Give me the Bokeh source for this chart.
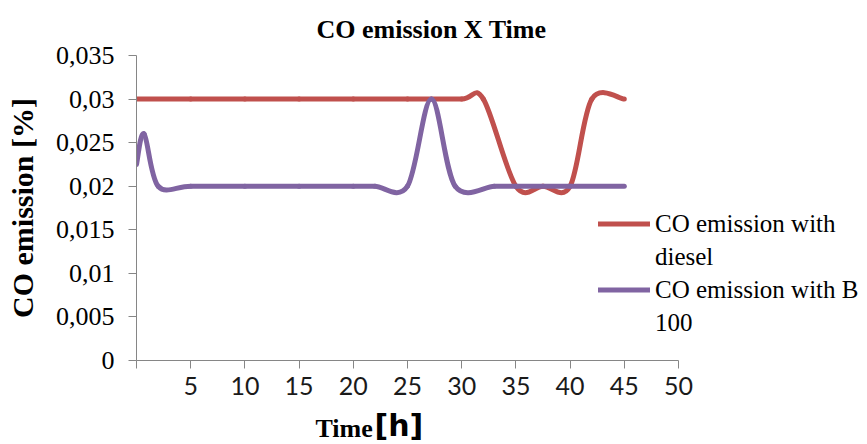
import numpy as np
from bokeh.plotting import figure
from bokeh.models import FixedTicker, Legend, LegendItem, Range1d, Title
from bokeh.embed import file_html
from bokeh.resources import INLINE

# ---- data ----
title_text = "CO emission X Time"
legend_lines = [["CO emission with", "diesel"], ["CO emission with B", "100"]]

time_diesel = [0, 5, 10, 15, 20, 25, 30, 32, 35, 37.5, 40, 42, 45]
co_diesel = [0.03, 0.03, 0.03, 0.03, 0.03, 0.03, 0.03, 0.03, 0.02, 0.02, 0.02, 0.03, 0.03]

time_b100 = [0, 0.7, 2, 5, 10, 15, 20, 22, 25, 27.2, 29.4, 33, 35, 40, 45]
co_b100 = [0.0225, 0.026, 0.02, 0.02, 0.02, 0.02, 0.02, 0.02, 0.02, 0.03, 0.02, 0.02, 0.02, 0.02, 0.02]

y_ticks = [0, 0.005, 0.01, 0.015, 0.02, 0.025, 0.03, 0.035]
y_tick_labels = ["0", "0,005", "0,01", "0,015", "0,02", "0,025", "0,03", "0,035"]
x_ticks = [0, 5, 10, 15, 20, 25, 30, 35, 40, 45, 50]
x_tick_labels = ["", "5", "10", "15", "20", "25", "30", "35", "40", "45", "50"]
x_title_parts = ["Time", "[h]"]

RED = "#C0504D"
PURPLE = "#8064A2"
AXIS = "#868686"

# layout (pixels)
W, H = 867, 444
LEFT, TOP, BOTTOM = 136, 55, 84
AXIS_RIGHT_PX = 678          # where x = 50 sits
X_MAX, Y_MAX = 50, 0.035
px_per_x = (AXIS_RIGHT_PX - LEFT) / X_MAX
x_end = (W - LEFT) / px_per_x   # frame runs to the right edge; axis stops at 50


def smooth_segments(xs, ys):
    """Excel-like smoothed line: cubic Bezier segments through the points."""
    x = np.asarray(xs, float)
    y = np.asarray(ys, float)
    n = len(x) - 1
    xp = np.concatenate([[x[0]], x, [x[-1]]])
    yp = np.concatenate([[y[0]], y, [y[-1]]])
    cx0 = x[:-1] + (xp[2:n + 2] - xp[0:n]) / 6.0
    cy0 = y[:-1] + (yp[2:n + 2] - yp[0:n]) / 6.0
    cx1 = x[1:] - (xp[3:n + 3] - xp[1:n + 1]) / 6.0
    cy1 = y[1:] - (yp[3:n + 3] - yp[1:n + 1]) / 6.0
    return dict(x0=x[:-1], y0=y[:-1], x1=x[1:], y1=y[1:],
                cx0=cx0, cy0=cy0, cx1=cx1, cy1=cy1)


p = figure(width=W, height=H, output_backend="svg", toolbar_location=None,
           x_range=Range1d(0, x_end), y_range=Range1d(0, Y_MAX),
           min_border_left=LEFT, min_border_right=0,
           min_border_top=TOP, min_border_bottom=BOTTOM)

p.outline_line_color = None
p.xgrid.visible = False
p.ygrid.visible = False
p.background_fill_color = "white"
p.border_fill_color = "white"

# title
p.title.text = title_text
p.title.text_font = "Liberation Serif"
p.title.text_font_style = "bold"
p.title.text_font_size = "26px"
p.title.text_color = "black"
p.title.align = "left"
p.title.offset = 180
p.title.standoff = 23

# y axis
ya = p.yaxis[0]
ya.ticker = FixedTicker(ticks=y_ticks)
ya.major_label_overrides = {t: s for t, s in zip(y_ticks, y_tick_labels)}
ya.major_label_text_font = "Liberation Serif"
ya.major_label_text_font_size = "26px"
ya.major_label_text_color = "black"
ya.major_label_standoff = 14
ya.major_tick_out = 8
ya.major_tick_in = 0
ya.minor_tick_out = 0
ya.minor_tick_in = 0
ya.axis_line_color = AXIS
ya.major_tick_line_color = AXIS
ya.axis_label = "CO emission [%]"
ya.axis_label_text_font = "Liberation Serif"
ya.axis_label_text_font_style = "bold"
ya.axis_label_text_font_size = "30px"
ya.axis_label_text_color = "black"
ya.axis_label_standoff = 14

# x axis (stops at 50 although the frame continues for the legend)
xa = p.xaxis[0]
xa.bounds = (0, X_MAX)
xa.ticker = FixedTicker(ticks=x_ticks)
xa.major_label_overrides = {t: s for t, s in zip(x_ticks, x_tick_labels)}
xa.major_label_text_font = "Lato"
xa.major_label_text_font_size = "25px"
xa.major_label_text_color = "#1a1a1a"
xa.major_label_standoff = 8
xa.major_tick_out = 8
xa.major_tick_in = 0
xa.minor_tick_out = 0
xa.minor_tick_in = 0
xa.axis_line_color = AXIS
xa.major_tick_line_color = AXIS

# x axis title "Time[h]" in two fonts, as in the reference.
# Two zero-height titles below the axis (negative standoff), placed side by side.
p.add_layout(Title(text=x_title_parts[0], align="left", offset=179,
                   vertical_align="bottom", standoff=-90,
                   text_font="Liberation Serif", text_font_style="bold",
                   text_font_size="26px", text_color="black"), "below")
p.add_layout(Title(text=x_title_parts[1], align="left", offset=238,
                   vertical_align="bottom", standoff=-90,
                   text_font="DejaVu Sans", text_font_style="bold",
                   text_font_size="30px", text_color="black"), "below")

# smoothed lines
r_diesel = p.bezier(source=smooth_segments(time_diesel, co_diesel),
                    x0="x0", y0="y0", x1="x1", y1="y1",
                    cx0="cx0", cy0="cy0", cx1="cx1", cy1="cy1",
                    line_color=RED, line_width=5, line_cap="round")
r_b100 = p.bezier(source=smooth_segments(time_b100, co_b100),
                  x0="x0", y0="y0", x1="x1", y1="y1",
                  cx0="cx0", cy0="cy0", cx1="cx1", cy1="cy1",
                  line_color=PURPLE, line_width=5, line_cap="round")

# legend: each series name wraps on two lines; the swatch sits on the first line
legend = Legend(items=[LegendItem(label=legend_lines[0][0], renderers=[r_diesel]),
                       LegendItem(label=legend_lines[0][1], renderers=[]),
                       LegendItem(label=legend_lines[1][0], renderers=[r_b100]),
                       LegendItem(label=legend_lines[1][1], renderers=[])],
                location=(462, 21))
legend.border_line_color = None
legend.background_fill_alpha = 0
legend.padding = 0
legend.margin = 0
legend.glyph_width = 52
legend.glyph_height = 33
legend.label_height = 33
legend.label_standoff = 5
legend.spacing = 0
legend.label_text_font = "Liberation Serif"
legend.label_text_font_size = "25px"
legend.label_text_color = "black"
p.add_layout(legend, "center")

open("out.html", "w").write(file_html(p, INLINE))
